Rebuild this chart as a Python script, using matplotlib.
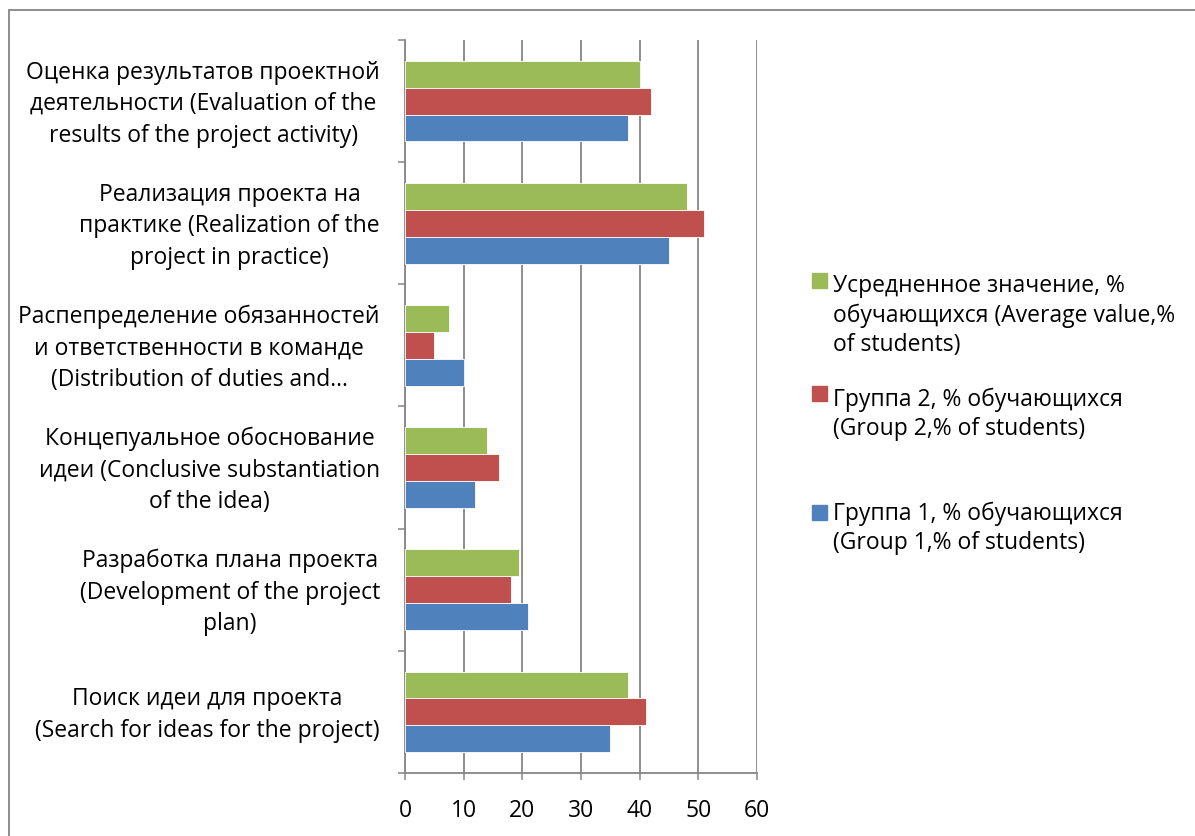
import matplotlib
matplotlib.use("Agg")
import matplotlib.pyplot as plt
from matplotlib.patches import Rectangle
from matplotlib.transforms import ScaledTranslation
import numpy as np

plt.rcParams['font.family'] = ['Open Sans', 'DejaVu Sans']

# Stages of project work, listed bottom to top
categories = [
    "Поиск идеи для проекта\n(Search for ideas for the project)",
    "Разработка плана проекта\n(Development of the project\nplan)",
    "Концепуальное обоснование\nидеи (Conclusive substantiation\nof the idea)",
    "Распепределение обязанностей\nи ответственности в команде\n(Distribution of duties and…",
    "Реализация проекта на\nпрактике (Realization of the\nproject in practice)",
    "Оценка результатов проектной\nдеятельности (Evaluation of the\nresults of the project activity)",
]

group1 = [35, 21, 12, 10, 45, 38]
group2 = [41, 18, 16, 5, 51, 42]
average = [38, 19.5, 14, 7.5, 48, 40]

series_names = [
    "Усредненное значение, %\nобучающихся (Average value,%\nof students)",
    "Группа 2, % обучающихся\n(Group 2,% of students)",
    "Группа 1, % обучающихся\n(Group 1,% of students)",
]
series_values = [average, group2, group1]
series_colors = ["#9BBB59", "#C0504D", "#4F81BD"]

x_ticks = [0, 10, 20, 30, 40, 50, 60]

W, H = 1195, 836
FS = 16.5
fig = plt.figure(figsize=(W / 100, H / 100), dpi=100)
ax = fig.add_axes([405 / W, 1 - 773 / H, (757 - 405) / W, (773 - 40) / H])

grid_col = "#868686"
bar_h = 0.22
y = np.arange(len(categories))
offsets = [bar_h, 0.0, -bar_h]
for vals, col, off in zip(series_values, series_colors, offsets):
    ax.barh(y + off, vals, height=bar_h, color=col, edgecolor="white",
            linewidth=0.6, zorder=3)

ax.set_xlim(0, 60)
ax.set_ylim(-0.5, len(categories) - 0.5)
ax.set_xticks(x_ticks)
ax.set_xticklabels([str(t) for t in x_ticks])
ax.xaxis.grid(True, color=grid_col, linewidth=1.3, zorder=1)
ax.tick_params(axis='x', length=5, width=1.1, color=grid_col, pad=14,
               labelsize=FS)

# category labels at centres, tick marks at category boundaries
ax.set_yticks(y)
ax.set_yticklabels(categories)
ax.tick_params(axis='y', which='major', length=0, pad=18, labelsize=FS)
ax.set_yticks(np.arange(-0.5, len(categories)), minor=True)
ax.tick_params(axis='y', which='minor', length=5, width=1.1, color=grid_col)
shift_down = ScaledTranslation(0, -3 / 100, fig.dpi_scale_trans)
for lbl in ax.get_yticklabels():
    lbl.set_multialignment('center')
    lbl.set_linespacing(1.42)
    lbl.set_verticalalignment('center')
    lbl.set_transform(lbl.get_transform() + shift_down)

for side in ["top", "right"]:
    ax.spines[side].set_visible(False)
for side in ["left", "bottom"]:
    ax.spines[side].set_color(grid_col)
    ax.spines[side].set_linewidth(1.3)
ax.set_axisbelow(True)

# legend: colour square plus wrapped series name (anchored at last line)
legend_squares = [273, 386, 505]
legend_last_baselines = [351, 435, 549]
for name, col, top, base in zip(series_names, series_colors,
                                legend_squares, legend_last_baselines):
    fig.patches.append(Rectangle((812 / W, 1 - (top + 15) / H), 15 / W, 15 / H,
                                 transform=fig.transFigure, color=col))
    fig.text(833 / W, 1 - base / H, name, fontsize=FS, va='baseline',
             ha='left', linespacing=1.3)

# chart frame
fig.patches.append(Rectangle((9 / W, -0.01), 1.1, 1 - 10 / H + 0.01,
                             transform=fig.transFigure, fill=False,
                             edgecolor=grid_col, linewidth=1.3))

fig.savefig("out.png", dpi=100)
